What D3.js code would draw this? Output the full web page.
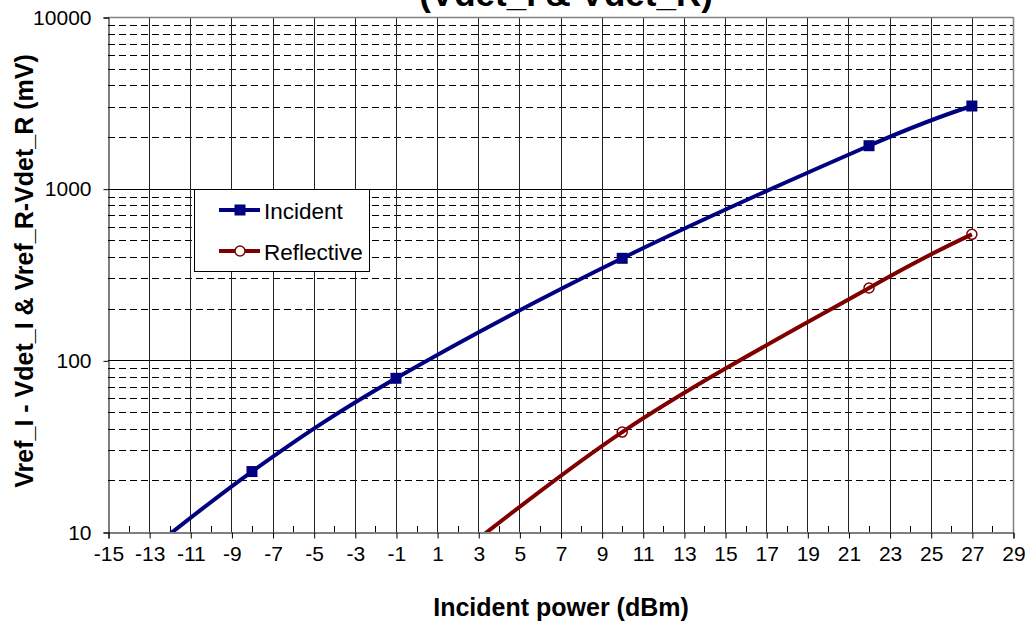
<!DOCTYPE html>
<html><head><meta charset="utf-8">
<script src="https://cdn.jsdelivr.net/npm/d3@7"></script>
<style>
html,body{margin:0;padding:0;background:#fff;}
svg{display:block;font-family:Arial,"Liberation Sans",sans-serif;}
</style></head>
<body>
<svg id="chart" width="1033" height="626"></svg>
<script>
// ---- data ----
const titleText = "(Vdet_I & Vdet_R)";
const xTitle = "Incident power (dBm)";
const yTitle = "Vref_I - Vdet_I & Vref_R-Vdet_R (mV)";
const seriesNames = ["Incident", "Reflective"];
const incidentX = [-15, -8, -1, 10, 22, 27];
const incidentY = [5.0, 22.5, 78.6, 393, 1779, 3030];
const reflectiveX = [-1, 10, 22, 27];
const reflectiveY = [3.8, 38.2, 264, 542];
const xTickValues = [-15,-13,-11,-9,-7,-5,-3,-1,1,3,5,7,9,11,13,15,17,19,21,23,25,27,29];
const xMinorValues = [-14,-12,-10,-8,-6,-4,-2,0,2,4,6,8,10,12,14,16,18,20,22,24,26,28];
const yTickValues = [10, 100, 1000, 10000];

const svg = d3.select("#chart");
const L = 108, R = 1013, T = 17, B = 532;
const x = d3.scaleLinear().domain([-15, 29]).range([L, R]);
const y = d3.scaleLog().domain([10, 10000]).range([B, T]);

// dashed minor horizontal grid
const minorY = [];
[10, 100, 1000].forEach(d => { for (let k = 2; k <= 9; k++) minorY.push(d * k); });
svg.append("g").selectAll("line").data(minorY).join("line")
  .attr("x1", L).attr("x2", R)
  .attr("y1", d => Math.round(y(d)) + 0.5).attr("y2", d => Math.round(y(d)) + 0.5)
  .attr("stroke", "#000").attr("stroke-width", 1).attr("stroke-dasharray", "7,4");
// decade lines
svg.append("g").selectAll("line").data(yTickValues.slice(1, 3)).join("line")
  .attr("x1", L).attr("x2", R)
  .attr("y1", d => Math.round(y(d)) + 0.5).attr("y2", d => Math.round(y(d)) + 0.5)
  .attr("stroke", "#000").attr("stroke-width", 1);
// vertical grid
svg.append("g").selectAll("line").data(xTickValues.slice(1, -1)).join("line")
  .attr("y1", T).attr("y2", B)
  .attr("x1", d => Math.round(x(d)) + 0.5).attr("x2", d => Math.round(x(d)) + 0.5)
  .attr("stroke", "#222").attr("stroke-width", 1);
// top & right border
svg.append("line").attr("x1", L).attr("x2", R).attr("y1", T + 0.5).attr("y2", T + 0.5)
  .attr("stroke", "#808080").attr("stroke-width", 1.5);
svg.append("line").attr("x1", R + 0.5).attr("x2", R + 0.5).attr("y1", T).attr("y2", B)
  .attr("stroke", "#808080").attr("stroke-width", 1.5);

// axes
const xAxis = d3.axisBottom(x).tickValues(xTickValues).tickSize(6).tickFormat(d3.format("d"));
const gx = svg.append("g").attr("transform", `translate(0.5,${B + 0.5})`).call(xAxis);
gx.select(".domain").attr("stroke", "#000");
gx.selectAll(".tick line").attr("stroke", "#000");
gx.selectAll("text").attr("font-size", 21).attr("fill", "#000").attr("dy", null).attr("y", 28)
  .text(d => (d < 0 ? "-" + Math.abs(d) : d));
svg.append("g").selectAll("line").data(xMinorValues).join("line")
  .attr("x1", d => Math.round(x(d)) + 0.5).attr("x2", d => Math.round(x(d)) + 0.5)
  .attr("y1", B - 6).attr("y2", B).attr("stroke", "#000");

const yAxis = d3.axisLeft(y).tickValues(yTickValues).tickSize(5).tickFormat(d3.format("d"));
const gy = svg.append("g").attr("transform", `translate(${L + 0.5},0.5)`).call(yAxis);
gy.select(".domain").attr("stroke", "#000");
gy.selectAll(".tick line").attr("stroke", "#000");
gy.selectAll("text").attr("font-size", 21).attr("fill", "#000").attr("x", -17);

// titles
svg.append("text").attr("x", 566).attr("y", 6).attr("text-anchor", "middle")
  .attr("font-size", 35).attr("font-weight", "bold").text(titleText);
svg.append("text").attr("x", 561).attr("y", 616).attr("text-anchor", "middle")
  .attr("font-size", 25).attr("font-weight", "bold").text(xTitle);
svg.append("text").attr("transform", "translate(33,271) rotate(-90)").attr("text-anchor", "middle")
  .attr("font-size", 25).attr("font-weight", "bold").text(yTitle);

// series
svg.append("clipPath").attr("id", "plotclip").append("rect")
  .attr("x", L).attr("y", T - 8).attr("width", R - L + 8).attr("height", B - T + 8);
const plot = svg.append("g").attr("clip-path", "url(#plotclip)");
svg.append("clipPath").attr("id", "lineclip").append("rect")
  .attr("x", L).attr("y", T).attr("width", R - L).attr("height", B - T);
const line = d3.line().x(d => x(d[0])).y(d => y(d[1])).curve(d3.curveCardinal.tension(0));
const inc = incidentX.map((v, i) => [v, incidentY[i]]);
const ref = reflectiveX.map((v, i) => [v, reflectiveY[i]]);
const lines = svg.append("g").attr("clip-path", "url(#lineclip)");
lines.append("path").datum(inc).attr("d", line).attr("fill", "none")
  .attr("stroke", "#000080").attr("stroke-width", 4);
lines.append("path").datum(ref).attr("d", line).attr("fill", "none")
  .attr("stroke", "#800000").attr("stroke-width", 4);
plot.selectAll("rect.m").data(inc.filter(d => d[1] >= 10)).join("rect").attr("class", "m")
  .attr("x", d => x(d[0]) - 5.5).attr("y", d => y(d[1]) - 5.5).attr("width", 11).attr("height", 11)
  .attr("fill", "#000080");
plot.selectAll("circle.m").data(ref.filter(d => d[1] >= 10)).join("circle").attr("class", "m")
  .attr("cx", d => x(d[0])).attr("cy", d => y(d[1])).attr("r", 5)
  .attr("fill", "#fff").attr("stroke", "#800000").attr("stroke-width", 1.5);

// legend
const lg = svg.append("g");
lg.append("rect").attr("x", 194.5).attr("y", 189.5).attr("width", 175).attr("height", 82)
  .attr("fill", "#fff").attr("stroke", "#000").attr("stroke-width", 1);
const lgY = [210, 251];
const colors = ["#000080", "#800000"];
seriesNames.forEach((n, i) => {
  lg.append("line").attr("x1", 219).attr("x2", 260).attr("y1", lgY[i]).attr("y2", lgY[i])
    .attr("stroke", colors[i]).attr("stroke-width", 4);
  if (i === 0) lg.append("rect").attr("x", 234.5).attr("y", lgY[i] - 5.5).attr("width", 11).attr("height", 11).attr("fill", colors[i]);
  else lg.append("circle").attr("cx", 240).attr("cy", lgY[i]).attr("r", 5).attr("fill", "#fff")
    .attr("stroke", colors[i]).attr("stroke-width", 1.5);
  lg.append("text").attr("x", 264).attr("y", lgY[i] + 9).attr("font-size", 22.5).attr("fill", "#000").text(n);
});
</script>
</body></html>
